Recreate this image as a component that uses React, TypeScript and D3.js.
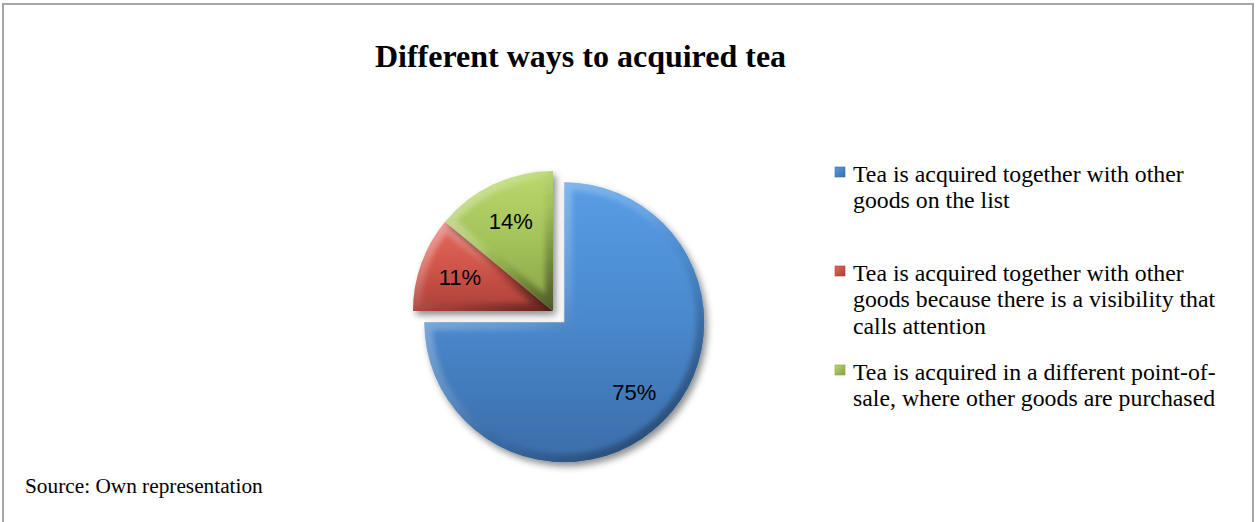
import React from "react";
import * as d3 from "d3";

const title = "Different ways to acquired tea";
const source = "Source: Own representation";
const categories = [
  "Tea is acquired together with other goods on the list",
  "Tea is acquired together with other goods because there is a visibility that calls attention",
  "Tea is acquired in a different point-of-sale, where other goods are purchased",
];
const legendLines = [
  ["Tea is acquired together with other", "goods on the list"],
  ["Tea is acquired together with other", "goods because there is a visibility that", "calls attention"],
  ["Tea is acquired in a different point-of-", "sale, where other goods are purchased"],
];
const values = [75, 11, 14];
const labels = ["75%", "11%", "14%"];
const exploded = [true, false, false];
const colorsTop = ["#579de6", "#e4695d", "#bbd86c"];
const colorsMid = ["#4a88cc", "#d0554a", "#a3c259"];
const colorsBot = ["#3a6ca8", "#ab4038", "#87a245"];

const W = 1259;
const H = 522;
const cx = 553;
const cy = 311;
const R = 140;
const EXPLODE = 16;
const LABEL_R = 99;

export default function App() {
  const pie = d3.pie<number>().sort(null).startAngle(0).endAngle(2 * Math.PI);
  const arcs = pie(values);
  const arc = d3.arc<d3.PieArcDatum<number>>().innerRadius(0).outerRadius(R);
  const labelArc = d3.arc<d3.PieArcDatum<number>>().innerRadius(LABEL_R).outerRadius(LABEL_R);

  const legendX = 835;
  const legendTextX = 853;
  const itemTop = [182, 281, 380];
  const lineH = 26.3;

  return (
    <svg
      width={W}
      height={H}
      style={{ position: "absolute", left: 0, top: 0, display: "block", background: "#fff" }}
    >
      <defs>
        <filter id="shadow" x="-20%" y="-20%" width="140%" height="140%">
          <feDropShadow dx="3" dy="4" stdDeviation="3.5" floodColor="#000" floodOpacity="0.45" />
        </filter>
        <filter id="blur" x="-10%" y="-10%" width="120%" height="120%">
          <feGaussianBlur stdDeviation="2.5" />
        </filter>
        <linearGradient id="bevel" x1="0" y1="0" x2="1" y2="1">
          <stop offset="0" stopColor="#fff" stopOpacity="0.45" />
          <stop offset="0.45" stopColor="#fff" stopOpacity="0.12" />
          <stop offset="0.6" stopColor="#000" stopOpacity="0.05" />
          <stop offset="1" stopColor="#000" stopOpacity="0.45" />
        </linearGradient>
        {values.map((_, i) => (
          <linearGradient key={i} id={`fill${i}`} x1="0" y1="0" x2="0" y2="1">
            <stop offset="0" stopColor={colorsTop[i]} />
            <stop offset="0.5" stopColor={colorsMid[i]} />
            <stop offset="1" stopColor={colorsBot[i]} />
          </linearGradient>
        ))}
        {values.map((_, i) => (
          <linearGradient key={`lg${i}`} id={`leg${i}`} x1="0" y1="0" x2="1" y2="1">
            <stop offset="0" stopColor={colorsTop[i]} />
            <stop offset="1" stopColor={colorsBot[i]} />
          </linearGradient>
        ))}
        {arcs.map((a, i) => (
          <clipPath key={i} id={`clip${i}`}>
            <path d={arc(a) || ""} />
          </clipPath>
        ))}
      </defs>

      <rect x={3} y={4} width={1250} height={530} fill="#fff" stroke="#a6a6a6" strokeWidth={2} />

      <text
        x={580.5}
        y={67}
        textAnchor="middle"
        fontFamily="'Liberation Serif', 'Times New Roman', serif"
        fontWeight="bold"
        fontSize={32}
        fill="#000"
      >
        {title}
      </text>

      <g>
        {arcs.map((a, i) => {
          const mid = (a.startAngle + a.endAngle) / 2;
          const d = exploded[i] ? EXPLODE : 0;
          const ox = cx + d * Math.sin(mid);
          const oy = cy - d * Math.cos(mid);
          const [lx, ly] = labelArc.centroid(a);
          const p = arc(a) || "";
          return (
            <g key={i} transform={`translate(${ox},${oy})`}>
              <path d={p} fill={`url(#fill${i})`} filter="url(#shadow)" />
              <g clipPath={`url(#clip${i})`}>
                <path d={p} fill="none" stroke="url(#bevel)" strokeWidth={16} filter="url(#blur)" />
              </g>
              <text
                x={lx}
                y={ly}
                textAnchor="middle"
                dominantBaseline="central"
                fontFamily="'Liberation Sans', Arial, sans-serif"
                fontSize={22}
                fill="#000"
              >
                {labels[i]}
              </text>
            </g>
          );
        })}
      </g>

      <g fontFamily="'Liberation Serif', 'Times New Roman', serif" fontSize={23.8} fill="#000">
        {categories.map((c, i) => (
          <g key={c}>
            <rect
              x={legendX}
              y={itemTop[i] - 15}
              width={10}
              height={10}
              fill={`url(#leg${i})`}
              stroke={colorsBot[i]}
              strokeWidth={0.6}
            />
            <text x={legendTextX} y={itemTop[i]}>
              {legendLines[i].map((ln, j) => (
                <tspan key={j} x={legendTextX} y={itemTop[i] + j * lineH}>
                  {ln}
                </tspan>
              ))}
            </text>
          </g>
        ))}
      </g>

      <text
        x={25}
        y={493}
        fontFamily="'Liberation Serif', 'Times New Roman', serif"
        fontSize={21.3}
        fill="#000"
      >
        {source}
      </text>
    </svg>
  );
}
